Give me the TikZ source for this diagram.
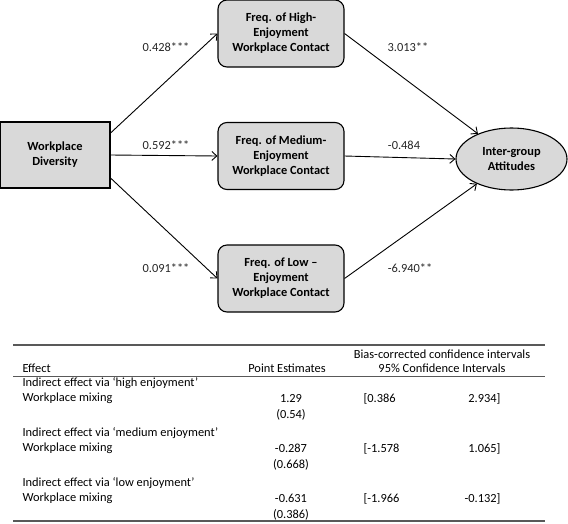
\documentclass[tikz,border=0pt]{standalone}
\usepackage{fontspec}
\setmainfont{Carlito}
\usetikzlibrary{positioning,arrows.meta,shapes.geometric}

\begin{document}
\begin{tikzpicture}[x=1pt,y=-1pt,font=\fontsize{12.4}{15}\selectfont,
  varbox/.style={draw,line width=1.1pt,fill=boxgray,align=center,inner sep=0pt,
    font=\fontsize{12.4}{15}\selectfont\bfseries},
  arr/.style={-{Straight Barb[length=5pt,width=9pt]},line width=0.9pt},
  coef/.style={text=black!85},
  tabrule/.style={line width=1.2pt,black!65}]
\colorlet{boxgray}{black!15}
\useasboundingbox (0,0) rectangle (568,523);
% ---- path model ----
\node[varbox,minimum width=110pt,minimum height=66pt] (div) at (55,155) {Workplace\\Diversity};
\node[varbox,rounded corners=9pt,minimum width=126pt,minimum height=67pt] (high) at (281,33.5)
  {Freq. of High-\\Enjoyment\\Workplace Contact};
\node[varbox,rounded corners=9pt,minimum width=126pt,minimum height=67pt] (med) at (281,156)
  {Freq. of Medium-\\Enjoyment\\Workplace Contact};
\node[varbox,rounded corners=9pt,minimum width=126pt,minimum height=67pt] (low) at (281,278.5)
  {Freq. of Low --\\Enjoyment\\Workplace Contact};
\node[varbox,ellipse,minimum width=111pt,minimum height=62pt] (att) at (511.5,159)
  {Inter-group\\Attitudes};
\draw[arr] ([yshift=22pt]div.east) -- (high.west);
\draw[arr] (div.east) -- (med.west);
\draw[arr] ([yshift=-23pt]div.east) -- (low.west);
\draw[arr] (high.east) -- (att);
\draw[arr] (med.east) -- (att.west);
\draw[arr] (low.east) -- (att);
\node[coef] (ahigh) at (166,47) {0.428***};
\node[coef] (amed) at (166,145) {0.592***};
\node[coef] (alow) at (166,268) {0.091***};
\node[coef] (bhigh) at (408,47) {3.013**};
\node[coef] (bmed) at (404,145) {-0.484};
\node[coef] (blow) at (410,268) {-6.940**};
% ---- table of indirect effects ----
\draw[tabrule] (13,345) -- (545,345);
\draw[tabrule] (13,376.5) -- (545,376.5);
\draw[tabrule] (13,521) -- (545,521);
\node[anchor=west] (heff) at (19,368) {Effect};
\node (hest) at (287,368) {Point Estimates};
\node (hbias) at (442,354) {Bias-corrected confidence intervals};
\node (hci) at (442,368) {95\% Confidence Intervals};
\foreach \y/\lab/\est/\se/\lo/\hi in {383/high/1.29/0.54/0.386/2.934,
    433/medium/-0.287/0.668/-1.578/1.065,
    483/low/-0.631/0.386/-1.966/-0.132}{
  \node[anchor=west] (via\lab) at (19,\y) {Indirect effect via ‘\lab{} enjoyment’};
  \node[anchor=west] (mix\lab) at (19,\y+15.5) {Workplace mixing};
  \node (est\lab) at (291,\y+15.5) {\est};
  \node (se\lab) at (291,\y+32) {(\se)};
  \node[anchor=west] (lo\lab) at (360,\y+15.5) {[\lo};
  \node[anchor=east] (hi\lab) at (504,\y+15.5) {\hi]};
}
\end{tikzpicture}
\end{document}
